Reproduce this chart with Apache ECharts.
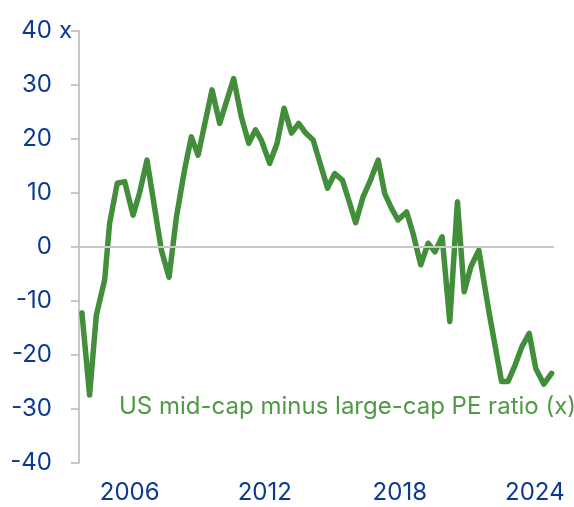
<!DOCTYPE html>
<html>
<head>
<meta charset="utf-8">
<script src="https://cdn.jsdelivr.net/npm/echarts@6/dist/echarts.min.js"></script>
<style>
  html, body { margin: 0; padding: 0; background: #fff; }
  #chart { width: 574px; height: 507px; }
</style>
</head>
<body>
<div id="chart"></div>
<script>
// year (decimal) and PE-ratio spread
const years = [
  2003.88, 2004.22, 2004.52, 2004.89, 2005.11, 2005.45, 2005.78, 2006.15, 2006.44, 2006.77,
  2007.41, 2007.75, 2008.08, 2008.44, 2008.74, 2009.04, 2009.66, 2010.0, 2010.62, 2010.96,
  2011.29, 2011.59, 2011.85, 2012.22, 2012.55, 2012.86, 2013.19, 2013.51, 2013.82, 2014.15,
  2014.79, 2015.11, 2015.45, 2015.73, 2016.04, 2016.37, 2016.67, 2017.04, 2017.33, 2017.63,
  2017.92, 2018.3, 2018.59, 2018.93, 2019.26, 2019.56, 2019.88, 2020.22, 2020.56, 2020.86,
  2021.16, 2021.51, 2021.96, 2022.52, 2022.81, 2023.11, 2023.42, 2023.75, 2024.04, 2024.4,
  2024.74
];
const spread = [
  -12.2, -27.4, -12.6, -6.1, 4.4, 11.8, 12.1, 5.9, 10, 16.1,
  -0.6, -5.6, 5.6, 14.3, 20.4, 17, 29.1, 22.9, 31.2, 24.1,
  19.2, 21.7, 19.8, 15.5, 19.2, 25.7, 21.1, 22.9, 21.1, 19.8,
  10.9, 13.6, 12.4, 8.7, 4.5, 9.3, 12.1, 16.1, 9.9, 7.2,
  5, 6.5, 2.5, -3.3, 0.7, -0.9, 1.9, -13.8, 8.4, -8.3,
  -3.6, -0.6, -12, -24.9, -24.9, -22, -18.5, -16, -22.5, -25.4,
  -23.4
];
const yearTicks = [2006, 2012, 2018, 2024];
const seriesName = 'US mid-cap minus large-cap PE ratio (x)';

const blue = '#0b3a8f';
const green = '#438e3b';
const gray = '#c8c8c8';
const font = 'Inter, "Noto Sans", sans-serif';

const chart = echarts.init(document.getElementById('chart'));

chart.setOption({
  animation: false,
  grid: { left: 79, right: 20, top: 31, bottom: 44, containLabel: false },
  xAxis: {
    type: 'value',
    min: 2003.75,
    max: 2024.85,
    axisLine: { show: false },
    axisTick: { show: false },
    splitLine: { show: false },
    axisLabel: {
      customValues: yearTicks,
      color: blue,
      fontSize: 24,
      fontFamily: font,
      margin: 18,
      formatter: (v) => String(v)
    }
  },
  yAxis: {
    type: 'value',
    min: -40,
    max: 40,
    interval: 10,
    axisLine: { show: true, lineStyle: { color: gray, width: 2 } },
    axisTick: { show: true, length: 8, lineStyle: { color: gray, width: 2 } },
    splitLine: { show: false },
    axisLabel: {
      color: blue,
      fontSize: 24,
      fontFamily: font,
      margin: 27
    }
  },
  series: [{
    name: seriesName,
    type: 'line',
    data: years.map((y, i) => [y, spread[i]]),
    symbol: 'none',
    lineStyle: { color: green, width: 5.5, join: 'round', cap: 'round' },
    markLine: {
      silent: true,
      symbol: 'none',
      label: { show: false },
      lineStyle: { color: gray, width: 2, type: 'solid' },
      data: [{ yAxis: 0 }]
    },
    z: 3
  }],
  graphic: [
    {
      type: 'text',
      x: 59,
      y: 31,
      style: { text: 'x', fill: blue, font: '24px ' + font, verticalAlign: 'middle' }
    },
    {
      type: 'text',
      x: 119,
      y: 407,
      style: { text: seriesName, fill: '#4f9a44', font: '24px ' + font, verticalAlign: 'middle' }
    }
  ]
});
</script>
</body>
</html>
